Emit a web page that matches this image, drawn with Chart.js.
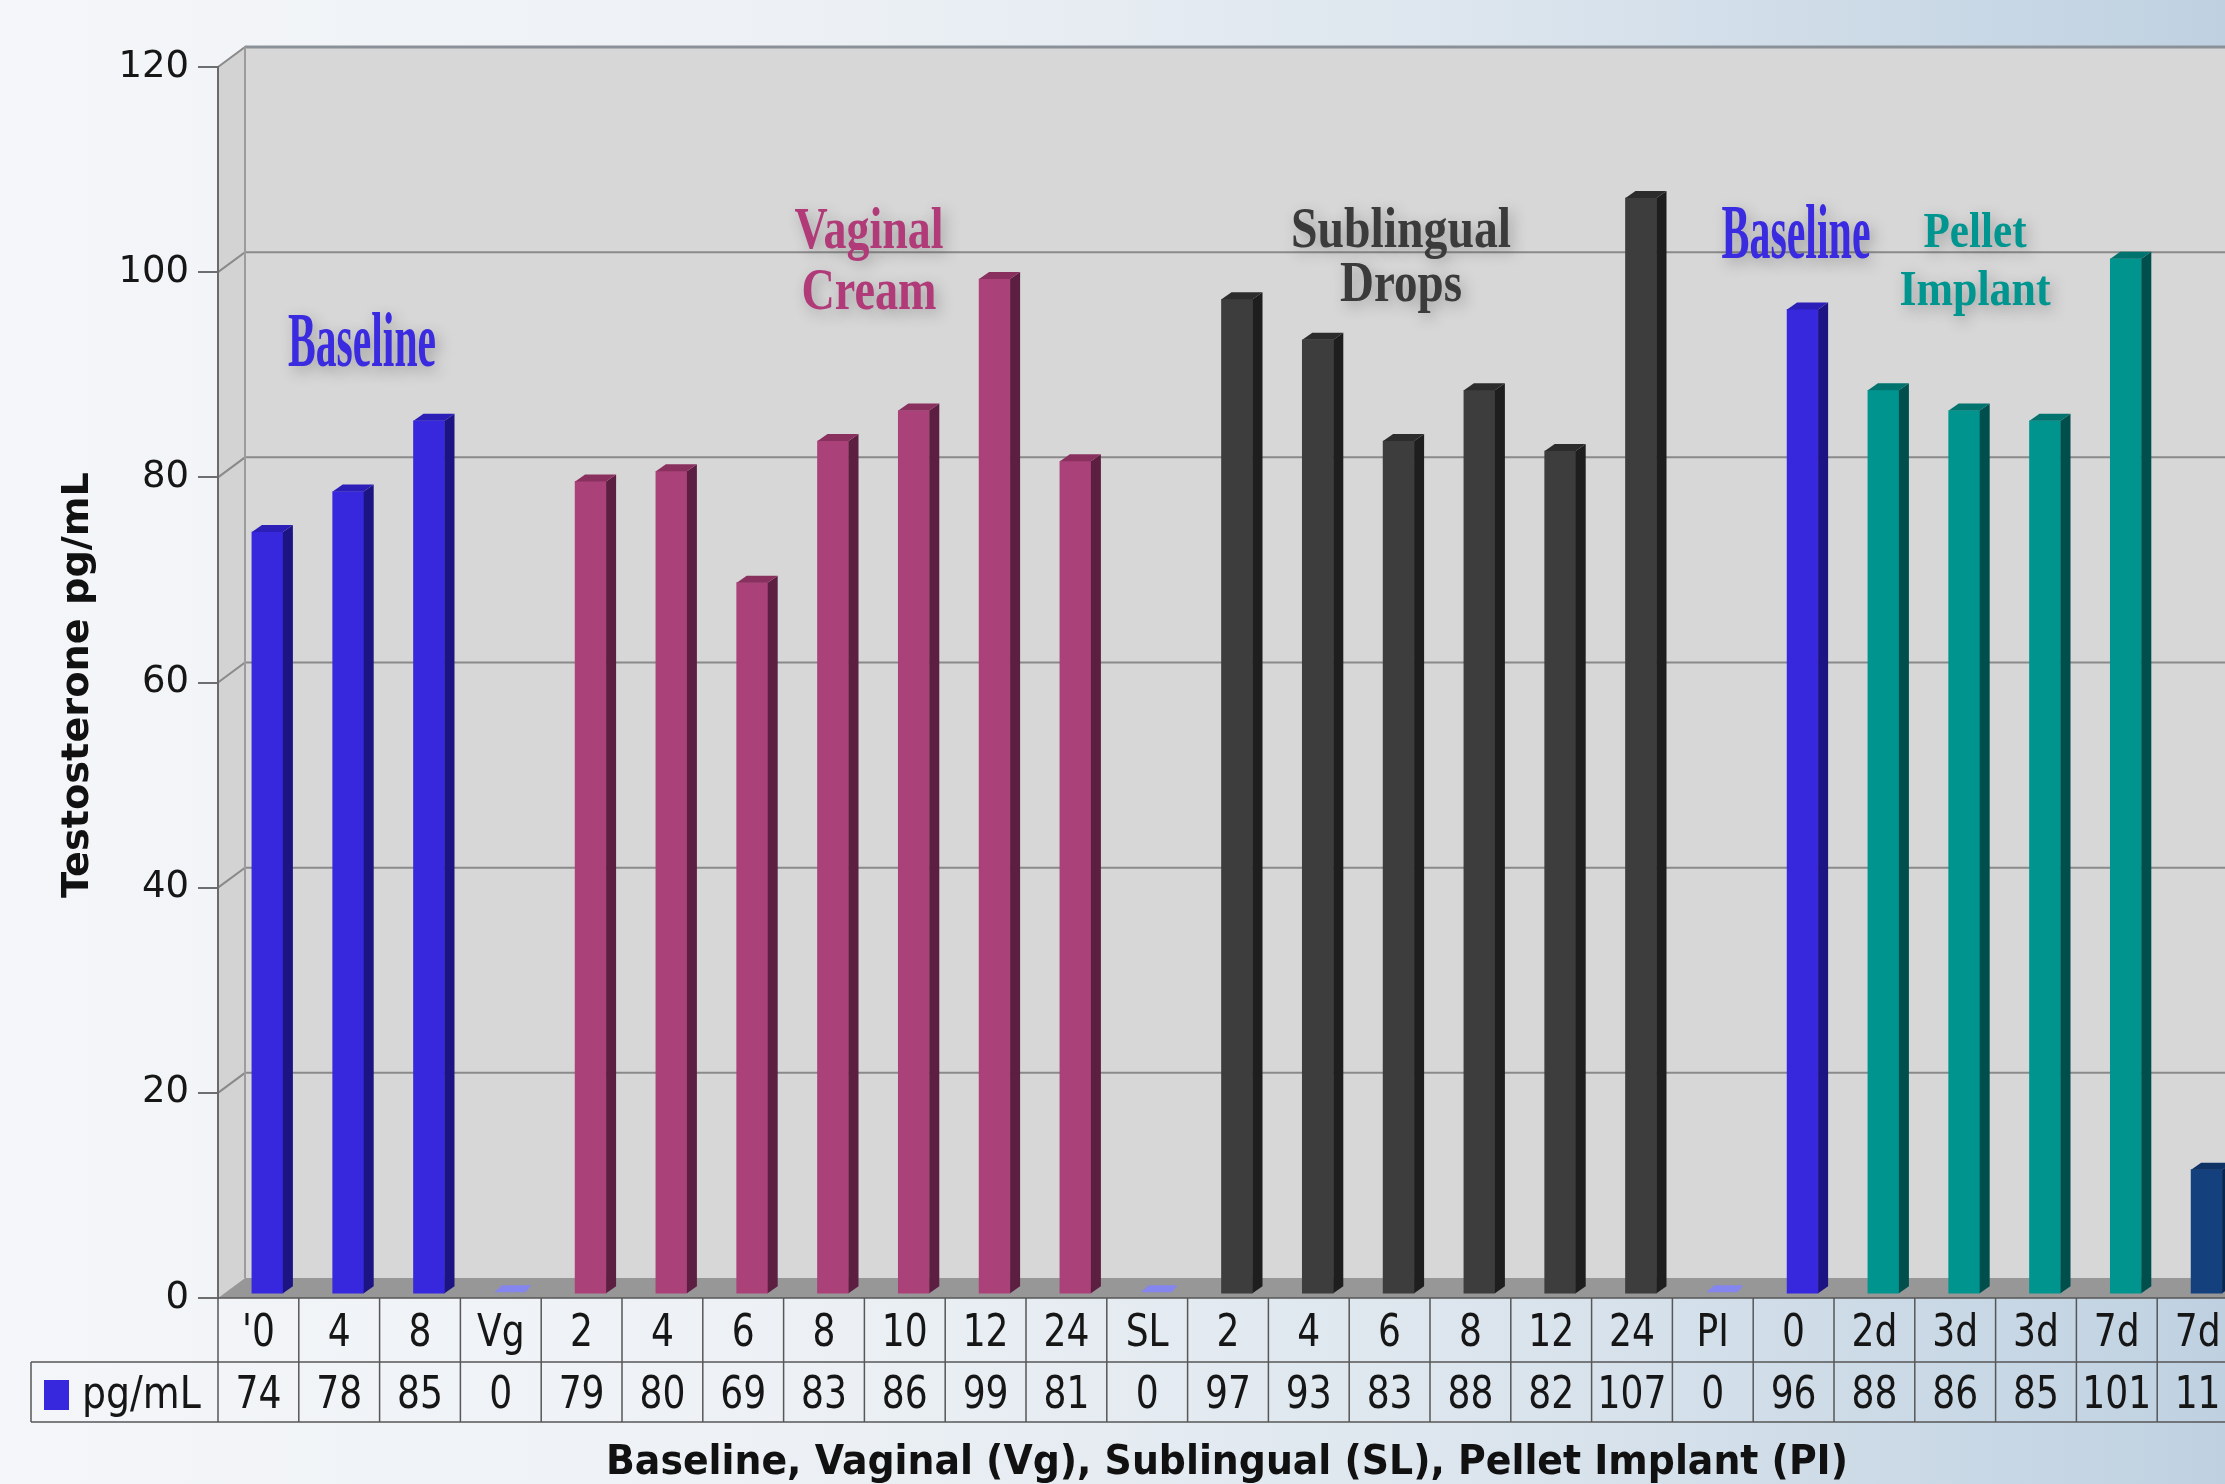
<!DOCTYPE html>
<html>
<head>
<meta charset="utf-8">
<script src="https://cdn.jsdelivr.net/npm/chart.js@4.4.1/dist/chart.umd.min.js"></script>
<style>
  html, body {
    margin: 0;
    padding: 0;
    width: 2225px;
    height: 1484px;
    overflow: hidden;
    background: linear-gradient(90deg, #f4f6f9 0%, #edf1f5 35%, #dde6ee 65%, #bfd1e1 100%);
  }
  #wrap { position: relative; width: 2260px; height: 1484px; }
</style>
</head>
<body>
<div id="wrap"><canvas id="chart" width="2260" height="1484"></canvas></div>
<script>
// data
const categories = ["'0", '4', '8', 'Vg', '2', '4', '6', '8', '10', '12', '24', 'SL', '2', '4', '6', '8', '12', '24', 'PI', '0', '2d', '3d', '3d', '7d', '7d'];
const values = [74, 78, 85, 0, 79, 80, 69, 83, 86, 99, 81, 0, 97, 93, 83, 88, 82, 107, 0, 96, 88, 86, 85, 101, 11];
const groups = ['base', 'base', 'base', 'vg', 'vg', 'vg', 'vg', 'vg', 'vg', 'vg', 'vg', 'sl', 'sl', 'sl', 'sl', 'sl', 'sl', 'sl', 'pi', 'base', 'pel', 'pel', 'pel', 'pel', 'late'];
const yTicks = [0, 20, 40, 60, 80, 100, 120];
const seriesName = 'pg/mL';
const yTitle = 'Testosterone pg/mL';
const xTitle = 'Baseline, Vaginal (Vg), Sublingual (SL), Pellet Implant (PI)';

// colours for each group: front, side, top
const palette = {
  base: ['#3728dd', '#1d1483', '#2b1fb8'],
  vg:   ['#aa4279', '#5c1f41', '#8a305f'],
  sl:   ['#3d3d3d', '#1e1e1e', '#2c2c2c'],
  pi:   ['#3728dd', '#1d1483', '#2b1fb8'],
  pel:  ['#00948f', '#004f4c', '#00736f'],
  late: ['#15407e', '#0a2650', '#103366']
};
const zeroMark = '#8585f0';

// group captions inside the plot
const notes = [
  { lines: ['Baseline'], color: '#3a2be0', x: 362, y: [366], size: 78, w: [148] },
  { lines: ['Vaginal', 'Cream'], color: '#b03b78', x: 869, y: [248, 309], size: 60, w: [149, 135] },
  { lines: ['Sublingual', 'Drops'], color: '#3b3b3b', x: 1401, y: [247, 301], size: 57, w: [220, 122] },
  { lines: ['Baseline'], color: '#3a2be0', x: 1796, y: [258], size: 78, w: [149] },
  { lines: ['Pellet', 'Implant'], color: '#00968f', x: 1975, y: [247, 305], size: 50, w: [103, 151] }
];

const DEPTH_X = 27, DEPTH_Y = -20;   // wall depth
const BAR_DX = 10, BAR_DY = -7;      // bar depth
const BAR_SHIFT = 9;

function squish(ctx, text, cx, by, font, color, w) {
  ctx.save();
  ctx.font = font;
  const sx = w ? w / ctx.measureText(text).width : 1;
  ctx.translate(cx, by);
  ctx.scale(sx, 1);
  ctx.fillStyle = color;
  ctx.textAlign = 'center';
  ctx.textBaseline = 'alphabetic';
  ctx.fillText(text, 0, 0);
  ctx.restore();
}

const wallPlugin = {
  id: 'walls',
  beforeDraw(chart) {
    const ctx = chart.ctx, a = chart.chartArea, y = chart.scales.y;
    const right = chart.width;
    const top = y.getPixelForValue(120), bot = y.getPixelForValue(0);
    ctx.save();
    // back wall
    ctx.fillStyle = '#d7d7d7';
    ctx.fillRect(a.left + DEPTH_X, top + DEPTH_Y, right, bot - top);
    // left wall
    ctx.fillStyle = '#d3d3d3';
    ctx.beginPath();
    ctx.moveTo(a.left, top);
    ctx.lineTo(a.left + DEPTH_X, top + DEPTH_Y);
    ctx.lineTo(a.left + DEPTH_X, bot + DEPTH_Y);
    ctx.lineTo(a.left, bot);
    ctx.closePath();
    ctx.fill();
    // floor
    ctx.fillStyle = '#979797';
    ctx.beginPath();
    ctx.moveTo(a.left, bot);
    ctx.lineTo(a.left + DEPTH_X, bot + DEPTH_Y);
    ctx.lineTo(right, bot + DEPTH_Y);
    ctx.lineTo(right, bot);
    ctx.closePath();
    ctx.fill();
    // grid lines on the back wall and their slanted links
    ctx.strokeStyle = '#8a8a8a';
    ctx.lineWidth = 2;
    yTicks.forEach(v => {
      if (v === 0) return;
      const py = y.getPixelForValue(v);
      ctx.beginPath();
      ctx.moveTo(a.left, py);
      ctx.lineTo(a.left + DEPTH_X, py + DEPTH_Y);
      ctx.lineTo(right, py + DEPTH_Y);
      ctx.stroke();
    });
    ctx.strokeStyle = '#8b9198';
    ctx.lineWidth = 3;
    ctx.beginPath();
    ctx.moveTo(a.left + DEPTH_X, top + DEPTH_Y);
    ctx.lineTo(right, top + DEPTH_Y);
    ctx.stroke();
    ctx.strokeStyle = '#9c9c9c';
    ctx.lineWidth = 2;
    ctx.beginPath();
    ctx.moveTo(a.left + DEPTH_X, top + DEPTH_Y);
    ctx.lineTo(a.left + DEPTH_X, bot + DEPTH_Y);
    ctx.stroke();
    ctx.restore();
  }
};

const barPlugin = {
  id: 'bars3d',
  beforeDatasetsDraw(chart) {
    chart.ctx.save();
    chart.ctx.translate(BAR_SHIFT, 0);
  },
  afterDatasetsDraw(chart) {
    const ctx = chart.ctx;
    const meta = chart.getDatasetMeta(0);
    meta.data.forEach((el, i) => {
      const w = el.width, l = el.x - w / 2, r = el.x + w / 2;
      const t = el.y, b = el.base;
      const col = palette[groups[i]];
      if (values[i] === 0) {
        // empty slot: only a flat lid on the floor
        ctx.fillStyle = zeroMark;
        ctx.beginPath();
        ctx.moveTo(l, b - 1);
        ctx.lineTo(r, b - 1);
        ctx.lineTo(r + BAR_DX - 4, b + BAR_DY - 1);
        ctx.lineTo(l + BAR_DX - 2, b + BAR_DY - 1);
        ctx.closePath();
        ctx.fill();
        return;
      }
      ctx.fillStyle = col[1];
      ctx.beginPath();
      ctx.moveTo(r, t);
      ctx.lineTo(r + BAR_DX, t + BAR_DY);
      ctx.lineTo(r + BAR_DX, b + BAR_DY);
      ctx.lineTo(r, b);
      ctx.closePath();
      ctx.fill();
      ctx.fillStyle = col[2];
      ctx.beginPath();
      ctx.moveTo(l, t);
      ctx.lineTo(l + BAR_DX, t + BAR_DY);
      ctx.lineTo(r + BAR_DX, t + BAR_DY);
      ctx.lineTo(r, t);
      ctx.closePath();
      ctx.fill();
    });
    ctx.restore();
  }
};

const textPlugin = {
  id: 'texts',
  afterDraw(chart) {
    const ctx = chart.ctx, x = chart.scales.x, y = chart.scales.y;
    // captions
    ctx.save();
    ctx.shadowColor = 'rgba(60,60,60,0.35)';
    ctx.shadowBlur = 14;
    ctx.shadowOffsetX = 4;
    ctx.shadowOffsetY = 5;
    notes.forEach(n => {
      n.lines.forEach((s, k) => {
        squish(ctx, s, n.x, n.y[k], 'bold ' + n.size + 'px "Liberation Serif"', n.color, n.w[k]);
      });
    });
    ctx.restore();

    // data table under the plot
    const colW = x.getPixelForValue(1) - x.getPixelForValue(0);
    const x0 = x.getPixelForValue(0) - colW / 2;
    const top = y.getPixelForValue(0);
    const mid = top + 64, bot = top + 124;
    const legL = 31;
    const right = chart.width;
    ctx.save();
    ctx.strokeStyle = '#575757';
    ctx.lineWidth = 1.5;
    ctx.beginPath();
    ctx.moveTo(x0, top); ctx.lineTo(right, top);
    ctx.moveTo(legL, mid); ctx.lineTo(right, mid);
    ctx.moveTo(legL, bot); ctx.lineTo(right, bot);
    ctx.moveTo(legL, mid); ctx.lineTo(legL, bot);
    for (let k = 0; k <= categories.length; k++) {
      const px = x0 + k * colW;
      ctx.moveTo(px, top); ctx.lineTo(px, bot);
    }
    ctx.stroke();
    const tf = '44px "DejaVu Sans"';
    categories.forEach((c, i) => {
      const px = x.getPixelForValue(i);
      ctx.font = tf;
      const w = ctx.measureText(c).width * 0.82;
      squish(ctx, c, px, top + 48, tf, '#161616', w);
      const sv = String(values[i]);
      const w2 = ctx.measureText(sv).width * 0.82;
      squish(ctx, sv, px, mid + 46, tf, '#161616', w2);
    });
    ctx.fillStyle = palette.base[0];
    ctx.fillRect(44, mid + 18, 25, 30);
    ctx.font = tf;
    const wl = ctx.measureText(seriesName).width * 0.86;
    squish(ctx, seriesName, 82 + wl / 2, mid + 46, tf, '#161616', wl);

    // axis titles
    squish(ctx, xTitle, 1227, 1474, 'bold 40px "DejaVu Sans"', '#111', 1242);
    ctx.save();
    ctx.translate(88, 685);
    ctx.rotate(-Math.PI / 2);
    squish(ctx, yTitle, 0, 0, 'bold 37px "DejaVu Sans"', '#111', 426);
    ctx.restore();
    ctx.restore();
  }
};

new Chart(document.getElementById('chart').getContext('2d'), {
  type: 'bar',
  data: {
    labels: categories,
    datasets: [{
      label: seriesName,
      data: values,
      yAxisID: 'yb',
      backgroundColor: values.map((v, i) => v === 0 ? 'rgba(0,0,0,0)' : palette[groups[i]][0]),
      borderWidth: 0,
      barThickness: 31,
      base: -1.2,
      clip: false
    }]
  },
  options: {
    responsive: false,
    animation: false,
    layout: { padding: { left: 0, top: 67, right: 22, bottom: 186 } },
    plugins: {
      legend: { display: false },
      tooltip: { enabled: false }
    },
    scales: {
      x: { type: 'category', display: false, offset: true },
      y: {
        position: 'left',
        min: 0,
        max: 120,
        afterBuildTicks: s => { s.ticks = yTicks.map(v => ({ value: v })); },
        afterFit: s => { s.width = 218; },
        ticks: { font: { family: 'DejaVu Sans', size: 37 }, color: '#161616', padding: 9 },
        grid: { drawOnChartArea: false, tickLength: 20, color: '#6e6e6e', lineWidth: 2 },
        border: { display: true, color: '#6a6a6a', width: 2 }
      },
      yb: { display: false, min: -1.68, max: 119.95 }
    }
  },
  plugins: [wallPlugin, barPlugin, textPlugin]
});
</script>
</body>
</html>
